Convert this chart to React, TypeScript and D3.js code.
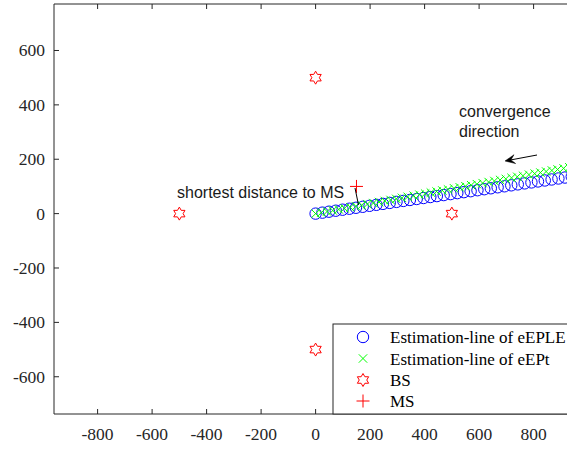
import React from "react";
import * as d3 from "d3";

const xTicks = [-800, -600, -400, -200, 0, 200, 400, 600, 800];
const yTicks = [-600, -400, -200, 0, 200, 400, 600];

const eplX = [0, 25, 49, 74, 99, 124, 148, 173, 198, 223, 247, 272, 297, 322, 346, 371, 396, 421, 445, 470, 495, 520, 544, 569, 594, 619, 643, 668, 693, 718, 742, 767, 792, 816, 841, 866, 891, 915, 940, 965];
const eplY = [0, 3.6, 7.1, 10.7, 14.4, 18.0, 21.5, 25.1, 28.7, 32.3, 35.8, 39.4, 43.1, 46.7, 50.2, 53.8, 57.4, 61.0, 64.5, 68.2, 71.8, 75.4, 78.9, 82.5, 86.1, 89.8, 93.2, 96.9, 100.5, 104.1, 107.6, 111.2, 114.8, 118.3, 121.9, 125.6, 129.2, 132.7, 136.3, 139.9];

const eptX = [0, 21, 42, 63, 85, 106, 127, 148, 169, 190, 212, 233, 254, 275, 296, 317, 338, 360, 381, 402, 423, 444, 465, 486, 508, 529, 550, 571, 592, 613, 635, 656, 677, 698, 719, 740, 761, 783, 804, 825, 846, 867, 888, 910, 931];
const eptY = [0, 3.8, 7.7, 11.5, 15.6, 19.4, 23.2, 27.1, 30.9, 34.8, 38.8, 42.6, 46.5, 50.3, 54.2, 58.0, 61.9, 65.9, 69.7, 73.6, 77.4, 81.3, 85.1, 88.9, 93.0, 96.8, 100.7, 104.5, 108.3, 112.2, 116.2, 120.0, 123.9, 127.7, 131.6, 135.4, 139.3, 143.3, 147.1, 151.0, 154.8, 158.7, 162.5, 166.5, 170.4];

const bsX = [0, -500, 500, 0];
const bsY = [500, 0, 0, -500];

const msX = [150];
const msY = [100];

const legendLabels = ["Estimation-line of eEPLE", "Estimation-line of eEPt", "BS", "MS"];

const W = 567;
const H = 449;
const left = 54;
const top = 4;
const bottom = 414;

const xScale = d3.scaleLinear().domain([-960, 1000]).range([left, left + 1960 * 0.2725]);
const yScale = d3.scaleLinear().domain([-737, 771]).range([bottom, top]);
const right = xScale(1000);

const AX = "#262626";
const serif = "'Liberation Serif', 'Times New Roman', serif";
const sans = "'Liberation Sans', Arial, sans-serif";

function hexagram(cx: number, cy: number, R: number) {
  const r = R / Math.sqrt(3);
  const pts: [number, number][] = [];
  for (let i = 0; i < 12; i++) {
    const a = -Math.PI / 2 + (i * Math.PI) / 6;
    const rr = i % 2 === 0 ? R : r;
    pts.push([cx + rr * Math.cos(a), cy + rr * Math.sin(a)]);
  }
  return d3.line()(pts) + "Z";
}

function Circle({ x, y }: { x: number; y: number }) {
  return <circle cx={x} cy={y} r={5.7} fill="none" stroke="#0000ff" strokeWidth={1} />;
}
function Cross({ x, y }: { x: number; y: number }) {
  const s = 4.2;
  return (
    <path
      d={`M${x - s},${y - s}L${x + s},${y + s}M${x - s},${y + s}L${x + s},${y - s}`}
      stroke="#00ff00"
      strokeWidth={1}
      fill="none"
    />
  );
}
function Star({ x, y }: { x: number; y: number }) {
  return <path d={hexagram(x, y, 6.5)} fill="none" stroke="#ff0000" strokeWidth={1} />;
}
function Plus({ x, y }: { x: number; y: number }) {
  const s = 6.5;
  return (
    <path d={`M${x - s},${y}L${x + s},${y}M${x},${y - s}L${x},${y + s}`} stroke="#ff0000" strokeWidth={1} fill="none" />
  );
}

export default function App() {
  const arrowTail: [number, number] = [537, 155];
  const arrowHead: [number, number] = [505, 161];
  const dx = arrowHead[0] - arrowTail[0];
  const dy = arrowHead[1] - arrowTail[1];
  const len = Math.hypot(dx, dy);
  const ux = dx / len, uy = dy / len;
  const px = -uy, py = ux;
  const hl = 10, hw = 4.5;
  const hx = arrowHead[0], hy = arrowHead[1];
  const headPath = `M${hx},${hy}L${hx - ux * hl + px * hw},${hy - uy * hl + py * hw}L${hx - ux * hl * 0.6},${hy - uy * hl * 0.6}L${hx - ux * hl - px * hw},${hy - uy * hl - py * hw}Z`;

  const legendRows = [337, 358.5, 380, 401];

  return (
    <svg width={W} height={H} style={{ position: "absolute", left: 0, top: 0, display: "block", background: "#fff" }}>
      <defs>
        <clipPath id="plotclip">
          <rect x={left} y={top} width={right - left} height={bottom - top} />
        </clipPath>
      </defs>
      <rect x={0} y={0} width={W} height={H} fill="#fff" />

      <g clipPath="url(#plotclip)">
        {eplX.map((v, i) => (
          <Circle key={"c" + i} x={xScale(v)} y={yScale(eplY[i])} />
        ))}
        {eptX.map((v, i) => (
          <Cross key={"x" + i} x={xScale(v)} y={yScale(eptY[i])} />
        ))}
        {bsX.map((v, i) => (
          <Star key={"s" + i} x={xScale(v)} y={yScale(bsY[i])} />
        ))}
        {msX.map((v, i) => (
          <Plus key={"p" + i} x={xScale(v)} y={yScale(msY[i])} />
        ))}
      </g>

      {/* annotations */}
      <line x1={355} y1={188} x2={358.5} y2={205} stroke="#000" strokeWidth={1} />
      <text x={177} y={198} fontFamily={sans} fontSize={16} fill="#1a1a1a">
        shortest distance to MS
      </text>
      <text x={459} y={117} fontFamily={sans} fontSize={16} fill="#1a1a1a">
        convergence
      </text>
      <text x={459} y={137} fontFamily={sans} fontSize={16} fill="#1a1a1a">
        direction
      </text>
      <line x1={arrowTail[0]} y1={arrowTail[1]} x2={hx - ux * 6} y2={hy - uy * 6} stroke="#000" strokeWidth={1} />
      <path d={headPath} fill="#000" stroke="#000" strokeWidth={0.5} />

      {/* axes box */}
      <line x1={left} y1={top} x2={right} y2={top} stroke={AX} strokeWidth={1} />
      <line x1={left} y1={bottom} x2={right} y2={bottom} stroke={AX} strokeWidth={1} />
      <line x1={left} y1={top} x2={left} y2={bottom} stroke={AX} strokeWidth={1} />

      {xTicks.map((t) => (
        <g key={"xt" + t}>
          <line x1={xScale(t)} y1={bottom} x2={xScale(t)} y2={bottom - 5} stroke={AX} strokeWidth={1} />
          <line x1={xScale(t)} y1={top} x2={xScale(t)} y2={top + 5} stroke={AX} strokeWidth={1} />
          <text x={xScale(t)} y={440} textAnchor="middle" fontFamily={serif} fontSize={17.5} fill={AX}>
            {t}
          </text>
        </g>
      ))}
      {yTicks.map((t) => (
        <g key={"yt" + t}>
          <line x1={left} y1={yScale(t)} x2={left + 5} y2={yScale(t)} stroke={AX} strokeWidth={1} />
          <text x={45} y={yScale(t) + 6} textAnchor="end" fontFamily={serif} fontSize={17.5} fill={AX}>
            {t}
          </text>
        </g>
      ))}

      {/* legend */}
      <rect x={333} y={324} width={300} height={bottom - 324} fill="#fff" stroke={AX} strokeWidth={1} />
      <Circle x={363} y={legendRows[0]} />
      <Cross x={363} y={legendRows[1]} />
      <Star x={363} y={legendRows[2]} />
      <Plus x={363} y={legendRows[3]} />
      {legendLabels.map((l, i) => (
        <text key={l} x={390} y={legendRows[i] + 6} fontFamily={serif} fontSize={17} fill="#000">
          {l}
        </text>
      ))}
    </svg>
  );
}
